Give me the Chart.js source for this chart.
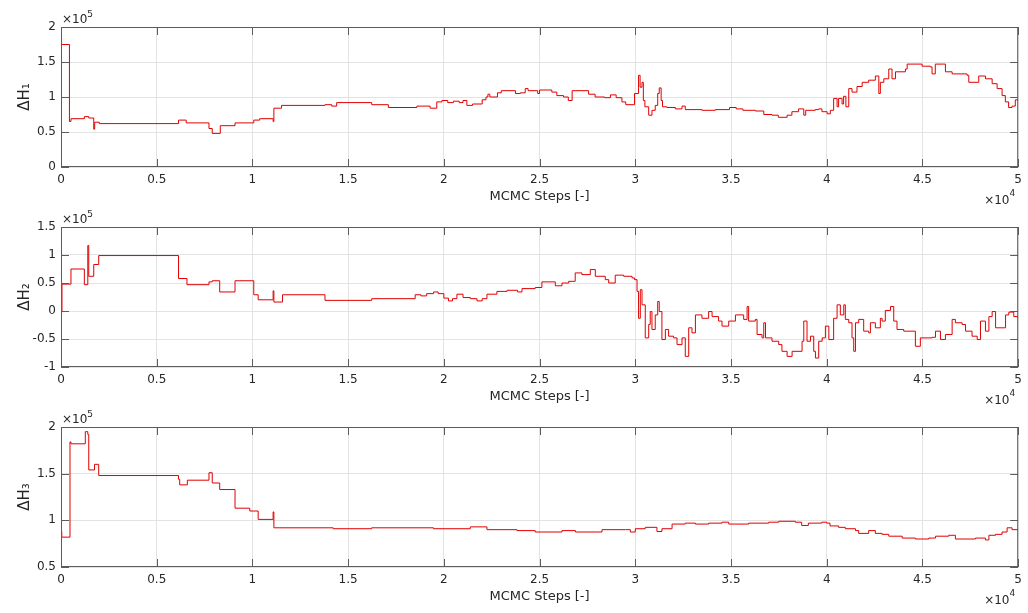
<!DOCTYPE html>
<html>
<head>
<meta charset="utf-8">
<script src="https://cdn.jsdelivr.net/npm/chart.js@4/dist/chart.umd.min.js"></script>
<style>
  html, body { margin: 0; padding: 0; background: #fff; }
  #wrap { position: relative; width: 1028px; height: 613px; }
  #wrap canvas { position: absolute; left: 0; }
</style>
</head>
<body>
<div id="wrap">
  <canvas id="chartH1" width="1028" height="213" style="top:0px"></canvas>
  <canvas id="chartH2" width="1028" height="213" style="top:200px"></canvas>
  <canvas id="chartH3" width="1028" height="213" style="top:400px"></canvas>
</div>
<script>
// MCMC chains of the three enthalpy parameters (step, accepted value)
const stepsH1 = [0, 440, 520, 1220, 1450, 1710, 1760, 2000, 6140, 6540, 7730, 7900, 8320, 9090, 10070, 10380, 11080, 11120, 11520, 13790, 14140, 14400, 16230, 17100, 18590, 19280, 19630, 19900, 20200, 20500, 20800, 21000, 21200, 21500, 22000, 22200, 22300, 22400, 22800, 23000, 23740, 24000, 24250, 24400, 24900, 25000, 25640, 25900, 26250, 26500, 26700, 27560, 27900, 28400, 28700, 29000, 29300, 29500, 29960, 30170, 30250, 30350, 30420, 30500, 30700, 30870, 31040, 31170, 31250, 31350, 31420, 31650, 32090, 32440, 32610, 33480, 34180, 34920, 35270, 35620, 36270, 36710, 37140, 37470, 37930, 38180, 38530, 38800, 38900, 39400, 39580, 39750, 40020, 40190, 40360, 40540, 40620, 40800, 40880, 41000, 41150, 41320, 41580, 41850, 42190, 42540, 42720, 42800, 42980, 43240, 43410, 43590, 44110, 44200, 44980, 45410, 45500, 45670, 46110, 46200, 46550, 47330, 47420, 47940, 48290, 48640, 48900, 49160, 49330, 49500, 49680, 49850, 50000];
const valuesH1 = [175000, 65000, 69000, 72000, 70000, 54000, 64000, 62000, 67000, 63000, 55000, 48000, 59000, 63000, 67000, 69000, 65000, 84000, 88000, 89000, 87000, 92000, 89000, 85000, 87000, 84000, 93000, 95000, 92000, 94000, 92000, 95000, 88000, 90000, 96000, 100000, 104000, 100000, 106000, 109000, 105000, 106000, 112000, 109000, 105000, 110000, 107000, 102000, 100000, 95000, 109000, 104000, 100000, 99000, 103000, 99000, 93000, 89000, 105000, 131000, 114000, 121000, 95000, 86000, 74000, 81000, 88000, 105000, 113000, 95000, 86000, 85000, 83000, 87000, 82000, 81000, 82000, 85000, 83000, 81000, 80000, 75000, 74000, 71000, 74000, 79000, 83000, 74000, 81000, 82000, 83000, 79000, 76000, 81000, 98000, 86000, 98000, 90000, 101000, 86000, 112000, 107000, 115000, 121000, 124000, 130000, 105000, 121000, 126000, 140000, 126000, 136000, 140000, 147000, 144000, 143000, 133000, 147000, 147000, 136000, 133000, 131000, 121000, 130000, 126000, 119000, 112000, 102000, 93000, 85000, 87000, 96000, 95000];

const stepsH2 = [0, 50, 520, 1220, 1400, 1450, 1710, 1970, 6140, 6580, 7730, 7900, 8290, 9090, 10070, 10300, 11080, 11120, 11570, 13790, 16230, 18500, 18800, 19100, 19460, 19700, 20000, 20240, 20450, 20680, 21000, 21380, 21730, 22000, 22250, 22770, 23300, 23850, 24080, 24770, 25120, 25820, 26170, 26520, 26860, 27210, 27650, 27910, 28430, 28610, 28950, 29390, 29830, 29960, 30090, 30170, 30260, 30350, 30520, 30700, 30780, 30870, 31040, 31170, 31250, 31390, 31570, 31740, 32000, 32180, 32440, 32610, 32790, 32960, 33140, 33480, 33830, 34010, 34350, 34530, 34880, 35230, 35660, 35840, 35920, 36270, 36360, 36620, 36710, 36800, 37140, 37490, 37660, 37930, 38190, 38710, 38800, 38970, 39150, 39320, 39410, 39580, 39760, 39930, 40110, 40360, 40540, 40710, 40890, 40970, 41150, 41320, 41410, 41500, 41670, 41930, 42190, 42280, 42540, 42800, 42890, 43060, 43330, 43500, 43670, 44020, 44630, 44890, 45500, 45680, 45940, 46200, 46550, 46720, 47070, 47250, 47590, 47860, 48030, 48290, 48470, 48640, 48820, 49340, 49510, 49770, 50000];
const valuesH2 = [0, 48000, 75000, 47000, 117000, 62000, 83000, 99000, 58000, 47000, 52000, 54000, 34000, 54000, 29000, 20000, 36000, 16000, 29000, 19000, 22000, 29000, 27000, 31000, 34000, 31000, 23000, 18000, 22000, 30000, 24000, 22000, 18000, 22000, 30000, 35000, 37000, 34000, 40000, 42000, 52000, 45000, 50000, 53000, 68000, 65000, 74000, 62000, 56000, 50000, 64000, 62000, 59000, 56000, 35000, -13000, 38000, 11000, -48000, -24000, -1000, -33000, -7000, 17000, -1000, -51000, -33000, -45000, -48000, -60000, -48000, -81000, -30000, -39000, -7000, -13000, -1000, -10000, -18000, -27000, -18000, -7000, -15000, 8000, -18000, -15000, -42000, -48000, -21000, -48000, -54000, -60000, -72000, -81000, -72000, -54000, -18000, -54000, -45000, -72000, -84000, -54000, -48000, -27000, -51000, -13000, 11000, -7000, 11000, -15000, -21000, -48000, -72000, -21000, -15000, -36000, -39000, -21000, -30000, -13000, -18000, 1000, 8000, -18000, -33000, -36000, -63000, -48000, -47000, -36000, -51000, -42000, -15000, -21000, -24000, -36000, -45000, -51000, -18000, -36000, -10000, -1000, -30000, -7000, -2000, -10000, -13000];

const stepsH3 = [0, 40, 470, 520, 1270, 1400, 1450, 1750, 1970, 6140, 6200, 6600, 7730, 7900, 8290, 9090, 9860, 10300, 11080, 11120, 14220, 16230, 19460, 21380, 22250, 23820, 24770, 26170, 26870, 28260, 29480, 29740, 30000, 30520, 31130, 31390, 31920, 32610, 33140, 33830, 34530, 34880, 35920, 36970, 37490, 38360, 38690, 39040, 39740, 40000, 40170, 40620, 40970, 41500, 41670, 42190, 42540, 42890, 43240, 43940, 44630, 45330, 45680, 46370, 46720, 47770, 48290, 48470, 48820, 49160, 49420, 49680, 50000];
const valuesH3 = [88000, 82000, 184000, 182000, 195000, 192000, 154000, 160000, 148000, 144000, 138000, 143000, 151000, 140000, 133000, 113000, 110000, 101000, 109000, 92000, 91000, 92000, 91000, 93000, 90000, 89000, 87500, 89000, 87500, 90000, 90000, 87500, 91000, 92500, 88000, 91000, 96000, 97000, 96000, 97000, 98000, 96000, 97000, 98000, 99000, 98000, 94500, 97000, 98000, 97000, 94000, 92500, 91000, 89000, 86000, 89000, 86000, 85000, 83000, 81000, 80000, 81000, 83000, 84000, 80000, 81000, 79000, 84000, 85000, 87500, 92000, 90000, 91000];

// axis limits and tick spacing of each panel
const yLabels = ["ΔH₁", "ΔH₂", "ΔH₃"];
const yMins = [0, -100000, 50000];
const yMaxs = [200000, 150000, 200000];
const yTickStep = 50000;
const xTickStep = 5000;
const xMax = 50000;

const TEXT_COLOR = "#262626";
const AXIS_COLOR = "#5c5c5c";
const GRID_COLOR = "#e3e3e3";
const LINE_COLOR = "#e00000";
const FONT = "DejaVu Sans";

/**
 * Draws the boxed axes with inward ticks and the exponent labels.
 */
const boxedAxes = {
  id: "boxedAxes",
  afterDraw(chart) {
    const { ctx, chartArea: a, scales } = chart;
    const tick = 8;
    ctx.save();
    ctx.strokeStyle = AXIS_COLOR;
    ctx.lineWidth = 1;
    ctx.strokeRect(a.left + 0.5, a.top + 0.5, a.right - a.left - 1, a.bottom - a.top - 1);

    ctx.beginPath();
    scales.x.ticks.forEach((t) => {
      const px = Math.round(scales.x.getPixelForValue(t.value)) + 0.5;
      ctx.moveTo(px, a.top);
      ctx.lineTo(px, a.top + tick);
      ctx.moveTo(px, a.bottom);
      ctx.lineTo(px, a.bottom - tick);
    });
    scales.y.ticks.forEach((t) => {
      const py = Math.round(scales.y.getPixelForValue(t.value)) + 0.5;
      ctx.moveTo(a.left, py);
      ctx.lineTo(a.left + tick, py);
      ctx.moveTo(a.right, py);
      ctx.lineTo(a.right - tick, py);
    });
    ctx.stroke();

    // exponent markers
    ctx.fillStyle = TEXT_COLOR;
    ctx.textBaseline = "alphabetic";
    ctx.textAlign = "left";
    ctx.font = `12px "${FONT}"`;
    ctx.fillText("×10", a.left + 1, a.top - 4);
    const w = ctx.measureText("×10").width;
    ctx.font = `9px "${FONT}"`;
    ctx.fillText("5", a.left + 1 + w, a.top - 10);

    ctx.font = `9px "${FONT}"`;
    const sup = ctx.measureText("4").width;
    ctx.fillText("4", a.right - sup - 3, a.bottom + 29);
    ctx.font = `12px "${FONT}"`;
    ctx.textAlign = "right";
    ctx.fillText("×10", a.right - sup - 3, a.bottom + 37);
    ctx.restore();
  },
};

/**
 * Renders one trace panel.
 * @param {string} id - canvas element id
 * @param {number[]} steps - MCMC step of each accepted value
 * @param {number[]} values - chain values
 * @param {number} k - panel index
 */
function renderPanel(id, steps, values, k) {
  const el = document.getElementById(id);
  new Chart(el.getContext("2d"), {
    type: "line",
    data: {
      datasets: [
        {
          data: steps.map((s, i) => ({ x: s, y: values[i] })),
          borderColor: LINE_COLOR,
          borderWidth: 1,
          pointRadius: 0,
          stepped: true,
          fill: false,
        },
      ],
    },
    options: {
      responsive: false,
      animation: false,
      layout: { padding: { top: 27, right: 8, left: 0, bottom: 0 } },
      plugins: { legend: { display: false }, tooltip: { enabled: false } },
      scales: {
        x: {
          type: "linear",
          min: 0,
          max: xMax,
          afterFit: (scale) => { scale.height = 46; },
          grid: { color: GRID_COLOR, drawTicks: false },
          border: { display: false },
          ticks: {
            stepSize: xTickStep,
            padding: 6,
            color: TEXT_COLOR,
            font: { family: FONT, size: 12 },
            maxRotation: 0,
            callback: (v) => String(v / 1e4),
          },
          title: {
            display: true,
            text: "MCMC Steps [-]",
            color: TEXT_COLOR,
            font: { family: FONT, size: 13 },
            padding: { top: 0, bottom: 9 },
          },
        },
        y: {
          min: yMins[k],
          max: yMaxs[k],
          afterFit: (scale) => { scale.width = 61; },
          grid: { color: GRID_COLOR, drawTicks: false },
          border: { display: false },
          ticks: {
            stepSize: yTickStep,
            padding: 5,
            color: TEXT_COLOR,
            font: { family: FONT, size: 12 },
            callback: (v) => String(v / 1e5),
          },
          title: {
            display: true,
            text: yLabels[k],
            color: TEXT_COLOR,
            font: { family: FONT, size: 15 },
            padding: { top: 16, bottom: 0 },
          },
        },
      },
    },
    plugins: [boxedAxes],
  });
}

renderPanel("chartH1", stepsH1, valuesH1, 0);
renderPanel("chartH2", stepsH2, valuesH2, 1);
renderPanel("chartH3", stepsH3, valuesH3, 2);
</script>
</body>
</html>
